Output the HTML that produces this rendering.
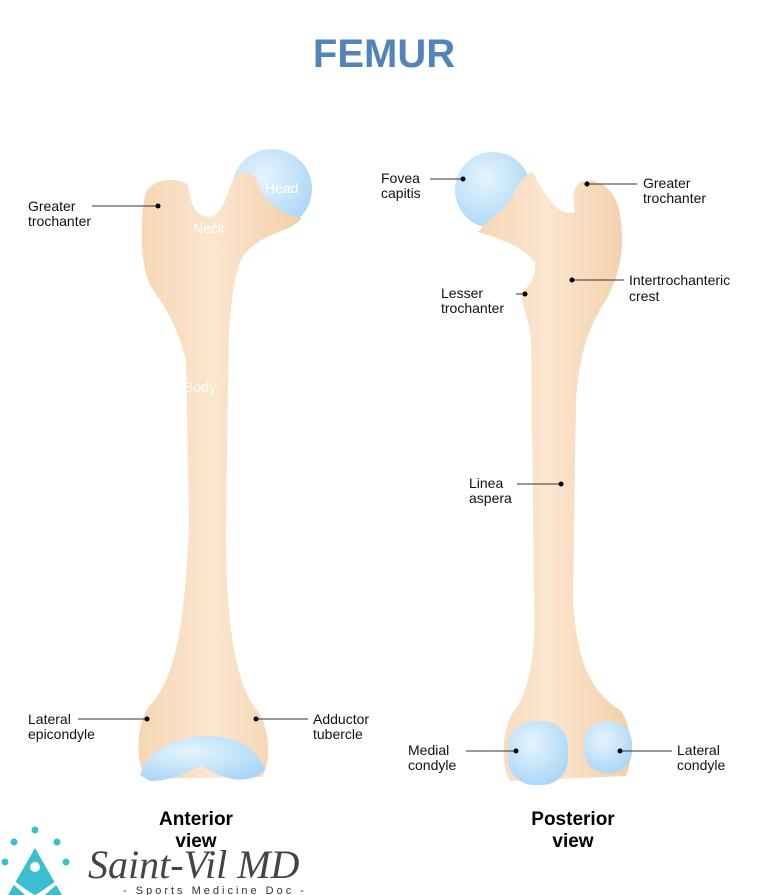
<!DOCTYPE html>
<html><head><meta charset="utf-8"><style>
body{margin:0;background:#fff;width:768px;height:895px;overflow:hidden;font-family:"Liberation Sans",sans-serif}
svg{display:block}
</style></head><body>
<svg width="768" height="895" viewBox="0 0 768 895" xmlns="http://www.w3.org/2000/svg">
<defs>
<linearGradient id="bone" x1="0" x2="1" y1="0" y2="0">
<stop offset="0" stop-color="#f6d6b4"/><stop offset="0.45" stop-color="#fbe6cf"/><stop offset="1" stop-color="#f3cfa9"/></linearGradient>
<radialGradient id="blue" cx="0.4" cy="0.35" r="0.7">
<stop offset="0" stop-color="#e6f4fd"/><stop offset="1" stop-color="#a9d6f7"/></radialGradient>
</defs>
<text x="384" y="67" text-anchor="middle" font-size="40" font-weight="bold" fill="#5384b8">FEMUR</text>

<!-- anterior -->
<circle cx="272" cy="189" r="40" fill="url(#blue)"/>
<path d="M145,195 C150,180 172,176 188,184 C190,200 193,215 208,217 C225,217 228,185 236,176 C246,168 255,174 258,184 C262,200 278,214 302,218 C290,234 255,232 240,262 C231,290 232,305 229,330 L226,520 C225,620 235,680 255,708 C270,725 272,760 262,777 L146,779 C134,760 137,720 150,705 C175,680 186,620 189,520 L186,360 C176,320 160,300 150,285 C140,265 140,220 145,195 Z" fill="url(#bone)"/>
<path d="M140,775 C148,752 170,738 205,736 C235,736 256,746 265,770 C258,778 245,781 232,779 C220,776 210,771 200,765 C190,773 170,781 150,781 Z" fill="url(#blue)"/>
<text x="265" y="193" font-size="14" fill="#fff">Head</text>
<text x="193" y="233" font-size="14" fill="#fff">Neck</text>
<text x="184" y="392" font-size="14" fill="#fff">Body</text>

<!-- posterior -->
<circle cx="493" cy="190" r="38" fill="url(#blue)"/>
<path d="M478,232 C490,217 505,210 512,198 C516,185 522,178 532,171 C545,195 558,218 575,212 C572,196 573,186 582,181 C600,178 615,190 619,210 C626,245 621,272 606,300 C586,330 579,360 576,400 L573,600 C576,650 586,690 620,710 C633,725 633,760 626,776 L510,781 C500,765 502,725 515,710 C530,690 536,650 534,600 L531,340 C529,315 520,302 522,292 C530,286 536,276 535,263 C525,248 505,240 478,232 Z" fill="url(#bone)"/>
<rect x="508" y="721" width="60" height="64" rx="26" fill="url(#blue)"/>
<rect x="584" y="721" width="48" height="52" rx="22" fill="url(#blue)"/>

<g stroke="#333" stroke-width="1" fill="none">
<line x1="92" y1="206" x2="158" y2="206"/>
<line x1="78" y1="719" x2="147" y2="719"/>
<line x1="256" y1="719" x2="308" y2="719"/>
<line x1="430" y1="179" x2="463" y2="179"/>
<line x1="588" y1="184" x2="637" y2="184"/>
<line x1="572" y1="280" x2="624" y2="280"/>
<line x1="516" y1="294" x2="524" y2="294"/>
<line x1="517" y1="484" x2="561" y2="484"/>
<line x1="466" y1="751" x2="516" y2="751"/>
<line x1="620" y1="751" x2="672" y2="751"/>
</g>
<g fill="#000">
<circle cx="158" cy="206" r="2.5"/><circle cx="147" cy="719" r="2.5"/><circle cx="256" cy="719" r="2.5"/>
<circle cx="463" cy="179" r="2.5"/><circle cx="587" cy="184" r="2.5"/><circle cx="572" cy="280" r="2.5"/>
<circle cx="525" cy="294" r="2.5"/><circle cx="561" cy="484" r="2.5"/><circle cx="516" cy="751" r="2.5"/><circle cx="620" cy="751" r="2.5"/>
</g>
<g font-size="14" fill="#111">
<text x="28" y="211">Greater</text><text x="28" y="226">trochanter</text>
<text x="28" y="724">Lateral</text><text x="28" y="739">epicondyle</text>
<text x="313" y="724">Adductor</text><text x="313" y="739">tubercle</text>
<text x="381" y="183">Fovea</text><text x="381" y="198">capitis</text>
<text x="643" y="188">Greater</text><text x="643" y="203">trochanter</text>
<text x="629" y="285">Intertrochanteric</text><text x="629" y="301">crest</text>
<text x="441" y="298">Lesser</text><text x="441" y="313">trochanter</text>
<text x="469" y="488">Linea</text><text x="469" y="503">aspera</text>
<text x="408" y="755">Medial</text><text x="408" y="770">condyle</text>
<text x="677" y="755">Lateral</text><text x="677" y="770">condyle</text>
</g>
<g font-size="19" font-weight="bold" fill="#000" text-anchor="middle">
<text x="196" y="825">Anterior</text><text x="196" y="847">view</text>
<text x="573" y="825">Posterior</text><text x="573" y="847">view</text>
</g>
<!-- logo -->
<g fill="#3bbfd0">
<circle cx="35" cy="830" r="3.5"/><circle cx="14" cy="842" r="3.5"/><circle cx="57" cy="842" r="3.5"/>
<circle cx="5" cy="862" r="3.5"/><circle cx="66" cy="862" r="3.5"/>
<path d="M35,848 L62,895 L8,895 Z"/>
</g>
<circle cx="35" cy="867" r="5" fill="#fff"/>
<path d="M0,872 C15,880 25,890 35,895 C45,890 55,880 72,872 C60,882 50,890 45,895 L25,895 C20,890 10,882 0,872 Z" fill="#fff"/>
<text x="88" y="878" font-family="Liberation Serif,serif" font-style="italic" font-size="40" fill="#444">Saint-Vil MD</text>
<text x="215" y="894" text-anchor="middle" font-size="11" letter-spacing="3" fill="#333">- Sports Medicine Doc -</text>
</svg>
</body></html>
